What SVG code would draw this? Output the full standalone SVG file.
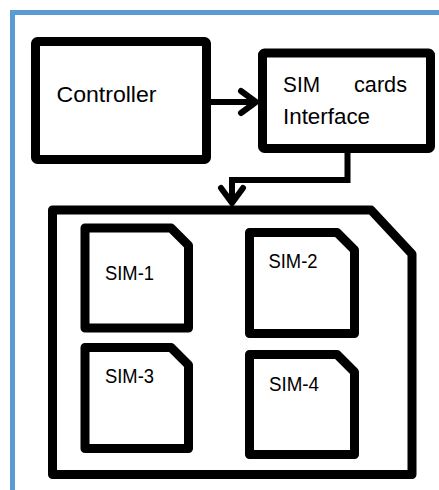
<svg xmlns="http://www.w3.org/2000/svg" width="439" height="490" viewBox="0 0 439 490">
  <style>
    .box { fill: #fff; stroke: #000; stroke-width: 9; stroke-linejoin: round; }
    .lbl { font-family: "Liberation Sans", Arial, sans-serif; fill: #000; }
    .big { font-size: 22px; }
    .small { font-size: 20px; }
    .conn { fill: none; stroke: #000; stroke-width: 6; stroke-linejoin: miter; }
  </style>
  <defs>
    <marker id="chev" markerUnits="userSpaceOnUse" orient="auto" markerWidth="40" markerHeight="40" refX="0" refY="0" viewBox="-20 -20 40 40" overflow="visible">
      <path d="M-15,-11 L0,0 L-15,11" fill="none" stroke="#000" stroke-width="6" stroke-linecap="round" stroke-linejoin="round"/>
    </marker>
  </defs>
  <rect x="12.5" y="12.5" width="460" height="510" fill="#fff" stroke="#5B9BD5" stroke-width="5"/>

  <g id="controller">
    <rect class="box" x="35.5" y="41.5" width="171" height="118" rx="2"/>
    <text class="lbl big" x="56.5" y="102" textLength="100" lengthAdjust="spacingAndGlyphs">Controller</text>
  </g>

  <g id="sim-interface">
    <rect class="box" x="262.5" y="53" width="168" height="95.5" rx="2"/>
    <text class="lbl big" x="283" y="92" textLength="37" lengthAdjust="spacingAndGlyphs">SIM</text>
    <text class="lbl big" x="354" y="92" textLength="53" lengthAdjust="spacingAndGlyphs">cards</text>
    <text class="lbl big" x="283" y="124" textLength="87" lengthAdjust="spacingAndGlyphs">Interface</text>
  </g>

  <g id="sim-holder">
    <path class="box" d="M52.5,210 H371 L412,254 V474.5 H52.5 Z"/>
  </g>

  <g id="sim-1">
    <path class="box" d="M85,228 H171 L188.5,245.5 V328 H85 Z"/>
    <text class="lbl small" x="105" y="280" textLength="49" lengthAdjust="spacingAndGlyphs">SIM-1</text>
  </g>
  <g id="sim-2">
    <path class="box" d="M249.5,232.5 H337 L354.5,250 V333.5 H249.5 Z"/>
    <text class="lbl small" x="268.5" y="268" textLength="49" lengthAdjust="spacingAndGlyphs">SIM-2</text>
  </g>
  <g id="sim-3">
    <path class="box" d="M85,347.5 H171 L188.5,365 V448.5 H85 Z"/>
    <text class="lbl small" x="105" y="383" textLength="49" lengthAdjust="spacingAndGlyphs">SIM-3</text>
  </g>
  <g id="sim-4">
    <path class="box" d="M249.5,354.5 H337 L354.5,372 V454.5 H249.5 Z"/>
    <text class="lbl small" x="269" y="390.5" textLength="50" lengthAdjust="spacingAndGlyphs">SIM-4</text>
  </g>

  <g id="connectors">
    <path class="conn" d="M211,102 H256" marker-end="url(#chev)"/>
    <path class="conn" d="M347.5,153 V180 H232 V203" marker-end="url(#chev)"/>
  </g>
</svg>
